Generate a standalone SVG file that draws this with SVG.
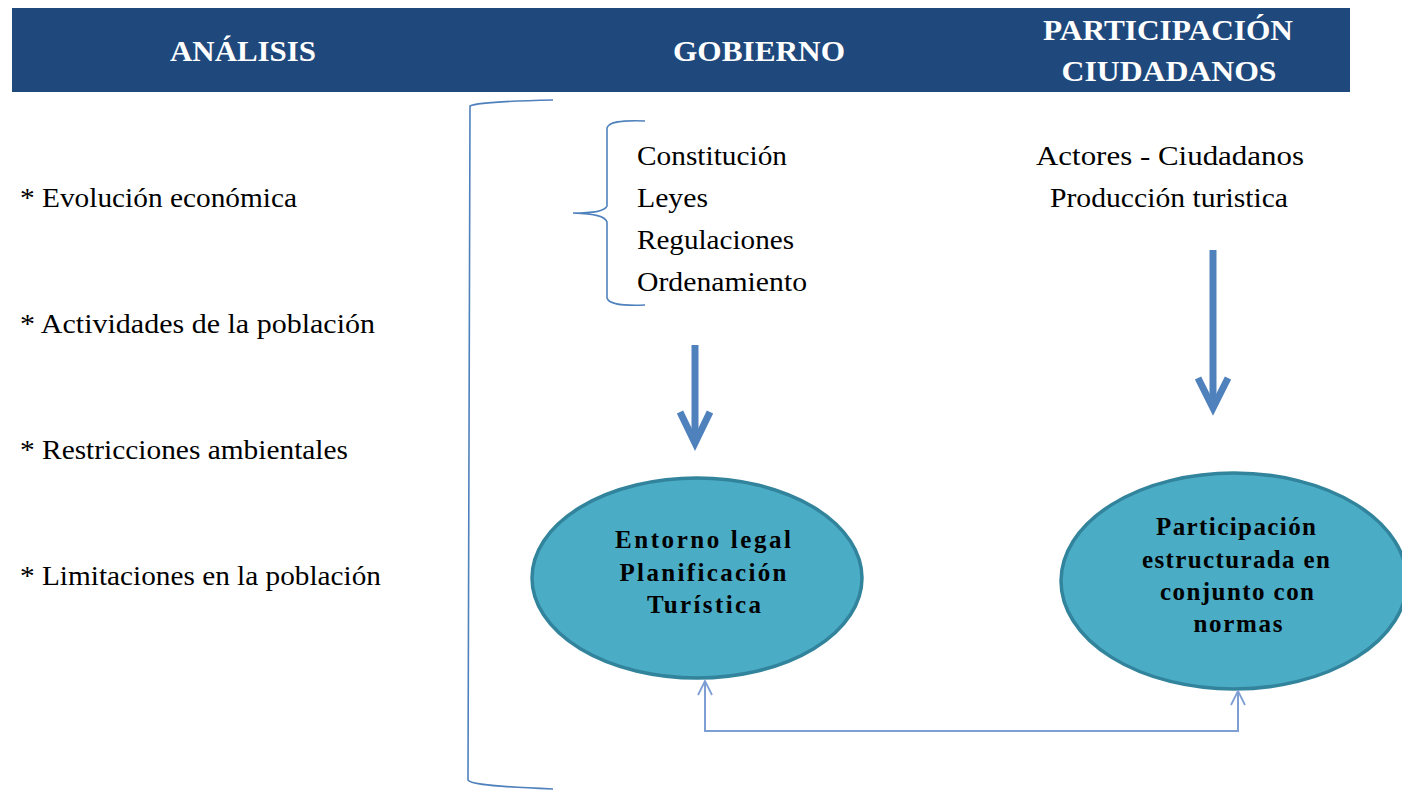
<svg xmlns="http://www.w3.org/2000/svg" width="1402" height="791" viewBox="0 0 1402 791">
<defs>
<style>
.hdr{font-family:"Liberation Serif",serif;font-weight:bold;font-size:30px;fill:#ffffff;text-anchor:middle}
.txt{font-family:"Liberation Serif","Times New Roman",serif;font-size:27px;fill:#000000}
.ell{font-family:"Liberation Serif","Times New Roman",serif;font-weight:bold;font-size:25px;fill:#000000;text-anchor:middle}
.brk{fill:none;stroke:#4F81BD;stroke-width:1.6}
.thick{fill:none;stroke:#4F81BD;stroke-width:7;stroke-linecap:butt}
.node{fill:#4BACC6;stroke:#31849B;stroke-width:3.5}
.conn{fill:none;stroke:#7E9FD3;stroke-width:2}
</style>
<marker id="open" viewBox="0 0 16 16" refX="15" refY="8" markerWidth="16" markerHeight="16" markerUnits="userSpaceOnUse" orient="auto-start-reverse">
<path d="M1,1 L15,8 L1,15" fill="none" stroke="#7E9FD3" stroke-width="1.8"/>
</marker>
</defs>
<rect width="1402" height="791" fill="#ffffff"/>
<g id="header">
<rect x="12" y="8" width="1338" height="84" fill="#1F497D"/>
<text class="hdr" x="243" y="61" textLength="146" lengthAdjust="spacingAndGlyphs">ANÁLISIS</text>
<text class="hdr" x="759" y="61" textLength="172" lengthAdjust="spacingAndGlyphs">GOBIERNO</text>
<text class="hdr" x="1168" y="40" textLength="250" lengthAdjust="spacingAndGlyphs">PARTICIPACIÓN</text>
<text class="hdr" x="1169" y="81" textLength="215" lengthAdjust="spacingAndGlyphs">CIUDADANOS</text>
</g>
<g id="analisis">
<text class="txt" x="20" y="207" textLength="277" lengthAdjust="spacingAndGlyphs">* Evolución económica</text>
<text class="txt" x="20" y="333" textLength="355" lengthAdjust="spacingAndGlyphs">* Actividades de la población</text>
<text class="txt" x="20" y="459" textLength="328" lengthAdjust="spacingAndGlyphs">* Restricciones ambientales</text>
<text class="txt" x="20" y="585" textLength="361" lengthAdjust="spacingAndGlyphs">* Limitaciones en la población</text>
</g>
<g id="big-bracket">
<path class="brk" d="M553,100 C505,101 476,103 470,106 L468,780 C470,785 505,787 553,789"/>
</g>
<g id="gobierno-list">
<path class="brk" d="M645,121 C620,120 609,122 607,128 L607,206 C605,211 595,213 573,213 C595,214 605,216 607,222 L607,298 C609,304 620,306 645,305"/>
<text class="txt" x="637" y="165" textLength="150" lengthAdjust="spacingAndGlyphs">Constitución</text>
<text class="txt" x="637" y="207" textLength="71" lengthAdjust="spacingAndGlyphs">Leyes</text>
<text class="txt" x="637" y="249" textLength="157" lengthAdjust="spacingAndGlyphs">Regulaciones</text>
<text class="txt" x="637" y="291" textLength="170" lengthAdjust="spacingAndGlyphs">Ordenamiento</text>
</g>
<g id="participacion-list">
<text class="txt" x="1170" y="165" text-anchor="middle" textLength="268" lengthAdjust="spacingAndGlyphs">Actores - Ciudadanos</text>
<text class="txt" x="1169" y="207" text-anchor="middle" textLength="238" lengthAdjust="spacingAndGlyphs">Producción turistica</text>
</g>
<g id="entorno">
<ellipse class="node" cx="697" cy="578" rx="165" ry="100"/>
<text class="ell" x="703" y="548" textLength="176" lengthAdjust="spacing">Entorno legal</text>
<text class="ell" x="703" y="581" textLength="167" lengthAdjust="spacing">Planificación</text>
<text class="ell" x="704" y="613" textLength="114" lengthAdjust="spacing">Turística</text>
</g>
<g id="participacion">
<ellipse class="node" cx="1234" cy="581" rx="173" ry="108"/>
<text class="ell" x="1236" y="535" textLength="160" lengthAdjust="spacing">Participación</text>
<text class="ell" x="1236" y="568" textLength="188" lengthAdjust="spacing">estructurada en</text>
<text class="ell" x="1237" y="600" textLength="154" lengthAdjust="spacing">conjunto con</text>
<text class="ell" x="1238" y="632" textLength="89" lengthAdjust="spacing">normas</text>
</g>
<g id="connectors">
<path class="thick" d="M695,345 L695,443"/>
<path class="thick" d="M680,412 L695,443 L710,412" stroke-linejoin="miter"/>
<path class="thick" d="M1213,250 L1213,408"/>
<path class="thick" d="M1198,378 L1213,408 L1228,378"/>
<path class="conn" d="M705,681 L705,731 L1238,731 L1238,691" marker-start="url(#open)" marker-end="url(#open)"/>
</g>
</svg>
